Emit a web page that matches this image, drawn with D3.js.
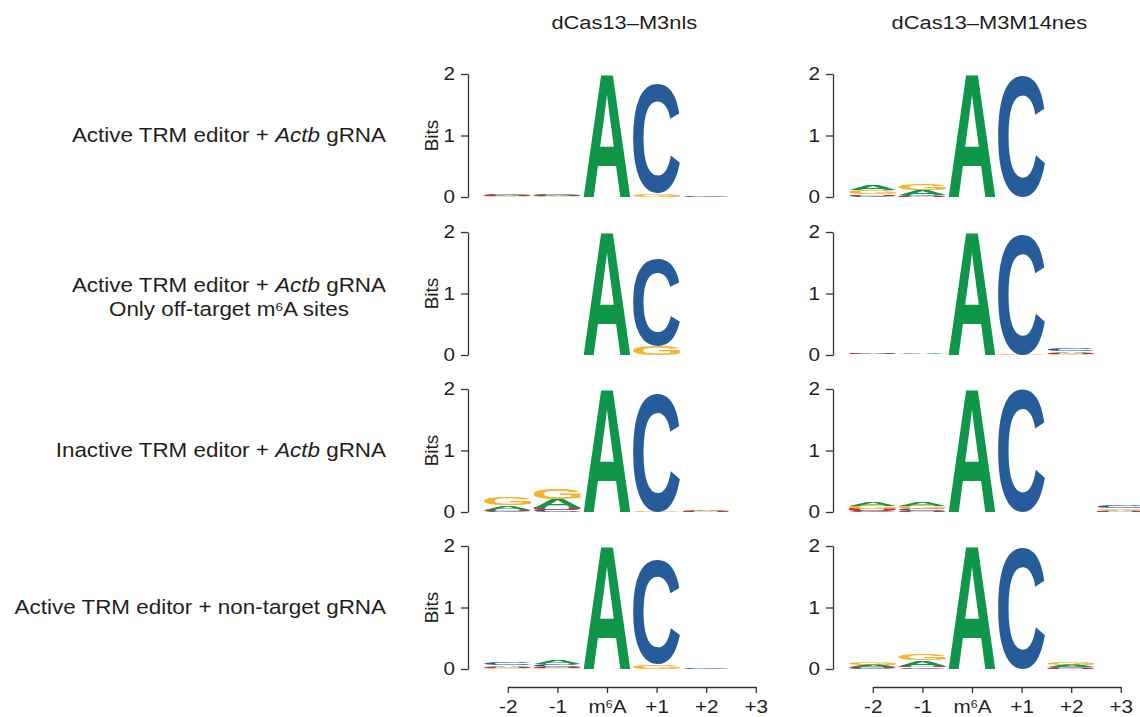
<!DOCTYPE html>
<html>
<head>
<meta charset="utf-8">
<script src="https://cdn.jsdelivr.net/npm/d3@7"></script>
<style>
  body { margin: 0; background: #fff; }
  svg { display: block; font-family: "Liberation Sans", Arial, Helvetica, sans-serif; }
</style>
</head>
<body>
<svg id="chart" width="1140" height="717"></svg>
<script>
// ---- data -------------------------------------------------------------
const positions = ["-2", "-1", "m6A", "+1", "+2", "+3"];
const bases = ["A", "C", "G", "U"];
const baseColors = ["#109648", "#255C99", "#F7B32B", "#D62839"];
const editors = ["dCas13\u2013M3nls", "dCas13\u2013M3M14nes"];

// row labels: segments of [text, style] with style 0 normal, 1 italic, 2 superscript
const conditions = [
  [[["Active TRM editor + ", 0], ["Actb", 1], [" gRNA", 0]]],
  [[["Active TRM editor + ", 0], ["Actb", 1], [" gRNA", 0]],
   [["Only off-target m", 0], ["6", 2], ["A sites", 0]]],
  [[["Inactive TRM editor + ", 0], ["Actb", 1], [" gRNA", 0]]],
  [[["Active TRM editor + non-target gRNA", 0]]]
];

// information (bits) per base [A, C, G, U] at each position
const nlsActiveActb = [
  [0.012, 0.025, 0.010, 0.015],
  [0.020, 0.025, 0.010, 0.010],
  [2.000, 0, 0, 0],
  [0, 1.770, 0.050, 0],
  [0.003, 0.008, 0.002, 0.002],
  [0.001, 0.001, 0.004, 0.002]
];
const nesActiveActb = [
  [0.080, 0.020, 0.070, 0.020],
  [0.080, 0.020, 0.115, 0.015],
  [2.000, 0, 0, 0],
  [0, 1.980, 0, 0],
  [0.003, 0.002, 0.006, 0.002],
  [0.002, 0.002, 0.004, 0.003]
];
const nlsOffTarget = [
  [0.006, 0.003, 0.008, 0.004],
  [0, 0, 0, 0],
  [2.000, 0, 0, 0],
  [0, 1.420, 0.145, 0],
  [0, 0, 0, 0],
  [0, 0.002, 0, 0.003]
];
const nesOffTarget = [
  [0.012, 0.006, 0.008, 0.008],
  [0.010, 0.005, 0.008, 0.006],
  [2.000, 0, 0, 0],
  [0, 1.960, 0.010, 0],
  [0.025, 0.030, 0.015, 0.020],
  [0, 0.002, 0, 0.002]
];
const nlsInactiveActb = [
  [0.070, 0.020, 0.120, 0.020],
  [0.150, 0.030, 0.160, 0.030],
  [2.000, 0, 0, 0],
  [0, 1.930, 0.010, 0],
  [0.012, 0.005, 0.010, 0.008],
  [0, 0.002, 0, 0.002]
];
const nesInactiveActb = [
  [0.060, 0.020, 0.055, 0.030],
  [0.060, 0.030, 0.055, 0.020],
  [2.000, 0, 0, 0],
  [0, 1.990, 0, 0],
  [0.005, 0, 0.005, 0],
  [0.025, 0.030, 0.025, 0.015]
];
const nlsNonTarget = [
  [0.025, 0.035, 0.015, 0.020],
  [0.050, 0.040, 0.015, 0.025],
  [2.000, 0, 0, 0],
  [0, 1.690, 0.070, 0],
  [0.006, 0.008, 0, 0],
  [0, 0, 0.004, 0.002]
];
const nesNonTarget = [
  [0.035, 0.015, 0.040, 0.020],
  [0.090, 0.025, 0.110, 0.025],
  [2.000, 0, 0, 0],
  [0, 1.970, 0, 0],
  [0.030, 0.020, 0.035, 0.015],
  [0, 0.002, 0, 0.002]
];
const panels = [
  [nlsActiveActb, nesActiveActb],
  [nlsOffTarget, nesOffTarget],
  [nlsInactiveActb, nesInactiveActb],
  [nlsNonTarget, nesNonTarget]
];

// ---- layout -----------------------------------------------------------
const axisX = [468, 833];          // y-axis line of each column
const zeroY = [197, 355, 512, 669]; // baseline of each row
const panelH = 123;                 // height of 2 bits
const stackOffset = 15;             // gap between y-axis and first stack
const stackStep = 49.6;
const labelRight = 386;
const textColor = "#231f20";
const axisColor = "#333";
const textFont = "'Liberation Sans', Arial, sans-serif";
const textStretch = 1.15;           // labels are set slightly wide
const labelSize = 19.5;

const svg = d3.select("#chart");

// tight glyph bounds so each letter fills its rectangle exactly
const glyphSize = 100;
const glyphFont = `bold ${glyphSize}px "Liberation Sans", Arial, sans-serif`;
const ctx = document.createElement("canvas").getContext("2d");
ctx.font = glyphFont;
const glyphBox = {};
bases.forEach(b => {
  const m = ctx.measureText(b);
  glyphBox[b] = {
    l: m.actualBoundingBoxLeft, r: m.actualBoundingBoxRight,
    a: m.actualBoundingBoxAscent, d: m.actualBoundingBoxDescent
  };
});

function drawLetter(g, base, color, x, yTop, w, h) {
  const bx = glyphBox[base];
  const sx = w / (bx.l + bx.r);
  const sy = h / (bx.a + bx.d);
  g.append("text")
    .attr("transform", `translate(${x + bx.l * sx},${yTop + bx.a * sy}) scale(${sx},${sy})`)
    .style("font", glyphFont)
    .attr("fill", color)
    .text(base);
}

function styledText(sel, segments) {
  segments.forEach(([t, s], i) => {
    const ts = sel.append("tspan").text(t);
    if (s === 1) ts.attr("font-style", "italic");
    if (s === 2) ts.attr("font-size", "0.6em").attr("dy", "-0.45em");
    if (i > 0 && segments[i - 1][1] === 2) ts.attr("dy", "0.27em");
  });
}

// plain label placed at (x, y) and stretched horizontally
function label(x, y, anchor, size) {
  return svg.append("text")
    .attr("transform", `translate(${x},${y}) scale(${textStretch},1)`)
    .attr("text-anchor", anchor)
    .attr("font-size", size)
    .attr("font-family", textFont)
    .attr("fill", textColor);
}

// stretch the tick labels an axis generator has placed
function stretchTicks(sel) {
  sel.selectAll("text").each(function () {
    const t = d3.select(this);
    const x = +t.attr("x") || 0, y = +t.attr("y") || 0;
    t.attr("x", 0).attr("y", 0)
      .attr("transform", `translate(${x},${y}) scale(${textStretch},1)`);
  });
}

// column titles
editors.forEach((name, c) => {
  label(axisX[c] + (stackOffset + 6 * stackStep) / 2, 29, "middle", 19).text(name);
});

// row labels
conditions.forEach((lines, r) => {
  const center = zeroY[r] - 62;
  if (lines.length === 1) {
    styledText(label(labelRight, center + 7, "end", labelSize), lines[0]);
  } else {
    const first = label(labelRight, center - 1, "end", labelSize);
    styledText(first, lines[0]);
    const w = first.node().getComputedTextLength() * textStretch;
    styledText(label(labelRight - w / 2, center + 23, "middle", labelSize), lines[1]);
  }
});

// logo panels
panels.forEach((row, r) => {
  const y = d3.scaleLinear().domain([0, 2]).range([zeroY[r], zeroY[r] - panelH]);
  row.forEach((data, c) => {
    const x = d3.scaleBand()
      .domain(positions)
      .range([axisX[c] + stackOffset, axisX[c] + stackOffset + 6 * stackStep])
      .paddingInner(0.05)
      .paddingOuter(0.025);
    const g = svg.append("g");

    // stacks: smallest letter at the bottom, most informative on top
    data.forEach((vals, i) => {
      const order = bases.map((b, k) => ({ b, k, v: vals[k] }))
        .filter(d => d.v > 0)
        .sort((a, b) => a.v - b.v);
      let acc = 0;
      order.forEach(d => {
        const top = y(acc + d.v), bottom = y(acc);
        drawLetter(g, d.b, baseColors[d.k], x(positions[i]), top, x.bandwidth(), bottom - top);
        acc += d.v;
      });
    });

    // y axis
    const ya = svg.append("g")
      .attr("transform", `translate(${axisX[c]},0)`)
      .call(d3.axisLeft(y).tickValues([0, 1, 2]).tickFormat(d3.format("d"))
        .tickSize(7).tickSizeOuter(0).tickPadding(6));
    ya.selectAll("path, line").attr("stroke", axisColor).attr("stroke-width", 1.3);
    ya.selectAll("text").attr("font-size", 18).attr("fill", textColor)
      .attr("font-family", textFont);
    stretchTicks(ya);

    if (c === 0) {
      svg.append("text")
        .attr("transform", `translate(438,${y(1)}) rotate(-90)`)
        .attr("text-anchor", "middle")
        .attr("font-size", 19)
        .attr("font-family", textFont)
        .attr("fill", textColor)
        .text("Bits");
    }

    // position axis under the last row
    if (r === panels.length - 1) {
      const half = x.bandwidth() / 2;
      const xp = d3.scalePoint().domain(positions)
        .range([x(positions[0]) + half, x(positions[positions.length - 1]) + half]);
      const xa = svg.append("g")
        .attr("transform", `translate(0,${zeroY[r] + 18})`)
        .call(d3.axisBottom(xp).tickSize(6).tickSizeOuter(0).tickPadding(7));
      xa.selectAll("path, line").attr("stroke", axisColor).attr("stroke-width", 1.3);
      xa.selectAll("text").attr("font-size", 18).attr("fill", textColor)
        .attr("font-family", textFont)
        .each(function (d) {
          if (d === "m6A") {
            const t = d3.select(this).text("");
            styledText(t, [["m", 0], ["6", 2], ["A", 0]]);
          }
        });
      stretchTicks(xa);
    }
  });
});
</script>
</body>
</html>
